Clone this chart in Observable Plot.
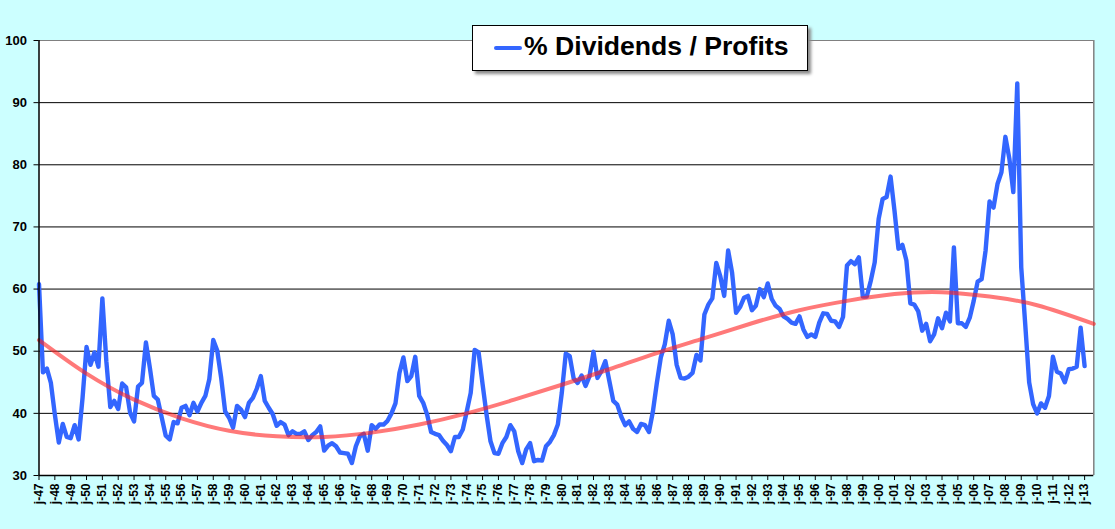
<!DOCTYPE html>
<html>
<head>
<meta charset="utf-8">
<script src="https://cdn.jsdelivr.net/npm/d3@7"></script>
<script src="https://cdn.jsdelivr.net/npm/@observablehq/plot@0.6"></script>
<style>
html, body { margin: 0; padding: 0; background: #ccffff; }
#wrap { position: relative; width: 1115px; height: 529px; overflow: hidden; }
#legend { position: absolute; left: 472px; top: 25px; width: 334px; height: 44px;
  border: 1px solid #000; background: #fff; box-shadow: 3px 3px 3px #8a8a8a;
  font-family: "Liberation Sans", Arial, sans-serif; }
#legend .swatch { position: absolute; left: 21px; top: 20px; width: 28px; height: 4px; background: #3366ff; border-radius: 2px; }
#legend .label { position: absolute; left: 51px; top: 7px; font-size: 26.6px; line-height: 26px; font-weight: bold; color: #000; white-space: nowrap; }
#wrap g[aria-label="y-axis tick label"] { font-size: 13px; font-weight: bold; }
#wrap g[aria-label="x-axis tick label"] { font-size: 12px; font-weight: bold; }
</style>
</head>
<body>
<div id="wrap"></div>
<script>
// ---- data ----
const startYear = 1947;          // first quarter: January 1947, one value per quarter
const seriesName = "% Dividends / Profits";
const dividendsPct = [
  60.8, 46.6, 47.2, 44.9,  // 1947
  39.8, 35.3, 38.3, 36.2,  // 1948
  36.0, 38.1, 35.8, 42.5,  // 1949
  50.7, 47.8, 49.8, 47.5,  // 1950
  58.5, 48.4, 41.0, 42.0,  // 1951
  40.7, 44.8, 44.2, 40.1,  // 1952
  38.7, 44.3, 44.9, 51.4,  // 1953
  47.3, 42.8, 42.2, 39.3,  // 1954
  36.4, 35.8, 38.6, 38.4,  // 1955
  40.9, 41.2, 39.7, 41.7,  // 1956
  40.3, 41.7, 42.8, 45.5,  // 1957
  51.8, 50.1, 45.7, 40.3,  // 1958
  39.3, 37.7, 41.2, 40.6,  // 1959
  39.4, 41.7, 42.5, 44.0,  // 1960
  46.0, 42.0, 40.9, 39.9,  // 1961
  38.0, 38.6, 38.2, 36.5,  // 1962
  37.1, 36.7, 36.7, 37.1,  // 1963
  35.7, 36.5, 37.0, 37.9,  // 1964
  34.0, 34.8, 35.2, 34.7,  // 1965
  33.7, 33.6, 33.5, 32.0,  // 1966
  34.7, 36.3, 36.7, 34.0,  // 1967
  38.1, 37.5, 38.2, 38.2,  // 1968
  38.8, 40.0, 41.6, 46.5,  // 1969
  49.0, 45.2, 46.0, 49.1,  // 1970
  42.8, 41.7, 39.8, 37.0,  // 1971
  36.7, 36.5, 35.6, 34.9,  // 1972
  33.9, 36.2, 36.2, 37.4,  // 1973
  40.3, 43.3, 50.2, 49.8,  // 1974
  44.7, 39.8, 35.5, 33.6,  // 1975
  33.5, 35.2, 36.2, 38.1,  // 1976
  37.1, 33.9, 32.0, 34.2,  // 1977
  35.2, 32.3, 32.5, 32.4,  // 1978
  34.7, 35.4, 36.5, 38.2,  // 1979
  43.3, 49.6, 49.2, 45.6,  // 1980
  44.9, 46.1, 44.4, 46.0,  // 1981
  49.9, 45.7, 46.8, 48.4,  // 1982
  45.2, 42.0, 41.4, 39.5,  // 1983
  38.1, 38.7, 37.5, 37.0,  // 1984
  38.3, 38.1, 37.0, 40.3,  // 1985
  44.9, 49.0, 51.1, 54.9,  // 1986
  52.7, 47.8, 45.7, 45.6,  // 1987
  45.9, 46.5, 49.4, 48.5,  // 1988
  55.9, 57.5, 58.5, 64.2,  // 1989
  62.1, 58.9, 66.2, 62.6,  // 1990
  56.2, 57.1, 58.6, 58.9,  // 1991
  56.6, 57.3, 60.0, 58.7,  // 1992
  60.9, 58.4, 57.3, 56.8,  // 1993
  55.6, 55.2, 54.6, 54.4,  // 1994
  55.6, 53.5, 52.3, 52.7,  // 1995
  52.3, 54.6, 56.1, 56.0,  // 1996
  54.9, 54.8, 53.9, 55.5,  // 1997
  63.8, 64.5, 64.0, 65.1,  // 1998
  58.8, 58.8, 61.3, 64.3,  // 1999
  71.3, 74.5, 74.8, 78.1,  // 2000
  72.6, 66.5, 67.1, 64.6,  // 2001
  57.7, 57.5, 56.4, 53.3,  // 2002
  54.4, 51.6, 52.7, 55.3,  // 2003
  53.7, 56.2, 54.8, 66.7,  // 2004
  54.5, 54.5, 53.9, 55.4,  // 2005
  58.1, 61.2, 61.6, 66.2,  // 2006
  74.1, 73.1, 76.9, 78.8,  // 2007
  84.5, 81.0, 75.6, 93.1,  // 2008
  63.5, 54.4, 45.0, 41.5,  // 2009
  40.0, 41.6, 40.9, 42.8,  // 2010
  49.1, 46.7, 46.4, 45.0,  // 2011
  47.1, 47.2, 47.5, 53.8,  // 2012
  47.6                     // 2013
];

// trend line (at these dates)
const trendYears  = [1947, 1950, 1953, 1956, 1959, 1962, 1965, 1968, 1971, 1974, 1977, 1980, 1983, 1986, 1989, 1992, 1995, 1998, 2001, 2004, 2007, 2010, 2013.58];
const trendValues = [51.8, 46.4, 42.2, 39.2, 37.2, 36.3, 36.2, 36.9, 38.2, 40.0, 42.2, 44.6, 47.1, 49.7, 52.1, 54.5, 56.6, 58.1, 59.2, 59.5, 58.8, 57.4, 54.4];

// axes
const yTicks = [30, 40, 50, 60, 70, 80, 90, 100];
const xStart = 1947, xEnd = 2013.58;
const xTickYears = d3.range(1947, 2014);
const xTickLabel = y => "j-" + String(y % 100).padStart(2, "0");

// ---- build tables ----
const series = dividendsPct.map((v, i) => ({ year: startYear + i / 4, value: v }));
const trend = trendYears.map((t, i) => ({ year: t, value: trendValues[i] }));

const chart = Plot.plot({
  width: 1115,
  height: 529,
  marginLeft: 38.5,
  marginRight: 21.7,
  marginTop: 40,
  marginBottom: 54,
  x: { domain: [xStart, xEnd], label: null },
  y: { domain: [30, 100], label: null },
  style: { background: "#ccffff", fontFamily: "'Liberation Sans', Arial, sans-serif", fontSize: "13px", color: "#000", overflow: "visible" },
  marks: [
    Plot.frame({ fill: "white", stroke: null }),
    Plot.gridY({ ticks: yTicks.filter(v => v > 30 && v < 100), stroke: "#000", strokeOpacity: 1, strokeWidth: 1 }),
    Plot.ruleY([100], { stroke: "#808080", strokeWidth: 1 }),
    Plot.ruleX([xEnd], { stroke: "#808080", strokeWidth: 1.5 }),
    Plot.line(series, { x: "year", y: "value", stroke: "#3366ff", strokeWidth: 4.4, strokeLinejoin: "round", strokeLinecap: "round" }),
    Plot.line(trend, { x: "year", y: "value", curve: "natural", stroke: "#ff2020", strokeOpacity: 0.6, strokeWidth: 4 }),
    Plot.axisY({ ticks: yTicks, tickSize: 5, tickPadding: 7, fontSize: 13, fontWeight: "bold" }),
    Plot.axisX({ ticks: xTickYears, tickFormat: xTickLabel, tickSize: 5, tickPadding: 3, tickRotate: -90, fontSize: 12, fontWeight: "bold" }),
    Plot.ruleX([xStart], { stroke: "#000", strokeWidth: 1.5 }),
    Plot.ruleY([30], { stroke: "#000", strokeWidth: 1.5 })
  ]
});

const wrap = document.getElementById("wrap");
wrap.appendChild(chart);
const legend = document.createElement("div");
legend.id = "legend";
legend.innerHTML = '<span class="swatch"></span><span class="label"></span>';
legend.querySelector(".label").textContent = seriesName;
wrap.appendChild(legend);
</script>
</body>
</html>
